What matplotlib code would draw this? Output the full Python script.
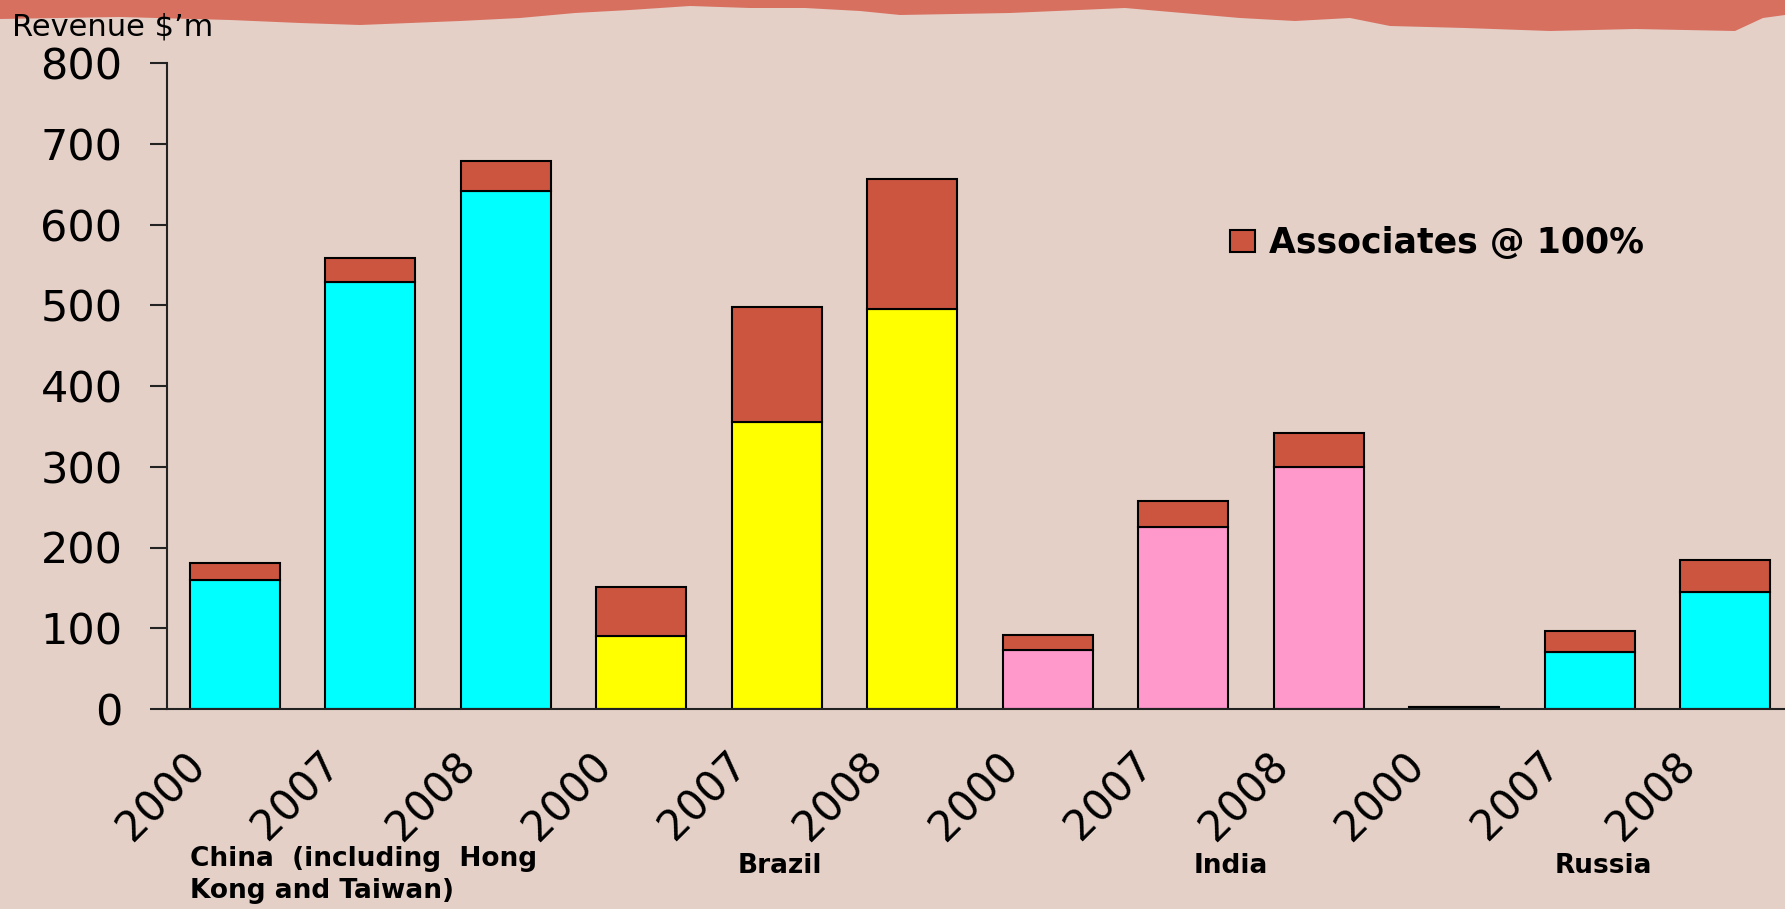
import matplotlib
matplotlib.use('Agg')
import matplotlib.pyplot as plt
import matplotlib.transforms as mtransforms
from matplotlib.patches import Polygon
import numpy as np

# ---- data ----
countries = ["China  (including  Hong\nKong and Taiwan)", "Brazil", "India", "Russia"]
years = ["2000", "2007", "2008"]
subsidiaries = [160, 529, 641, 90, 355, 495, 73, 225, 300, 2, 71, 145]
associates = [21, 30, 38, 61, 143, 161, 19, 33, 42, 0, 25, 40]
country_colors = ["#00FFFF", "#FFFF00", "#FF99CC", "#00FFFF"]
assoc_label = "Associates @ 100%"
y_label = "Revenue $\u2019m"
y_ticks = [0, 100, 200, 300, 400, 500, 600, 700, 800]

W, H = 1785, 909
BG = "#E4D0C7"
plt.rcParams['font.family'] = ['DejaVu Sans']

fig = plt.figure(figsize=(W / 100, H / 100), dpi=100, facecolor=BG)

# torn banner at top (decoration)
edge = [(0, 19), (120, 17), (230, 20), (300, 23), (360, 25), (460, 21), (520, 18),
        (575, 13), (630, 10), (690, 6), (750, 8), (805, 8), (860, 11), (900, 15),
        (1010, 13), (1125, 8), (1240, 18), (1295, 21), (1350, 18), (1390, 26),
        (1465, 28), (1550, 31), (1635, 29), (1735, 31), (1763, 18), (1785, 15)]
pts = [(x / W, 1 - y / H) for x, y in edge] + [(1, 1), (0, 1)]
fig.add_artist(Polygon(pts, closed=True, transform=fig.transFigure,
                       facecolor="#D87060", edgecolor='none', zorder=0))

ax = fig.add_axes([167 / W, 1 - 709 / H, (1793 - 167) / W, (709 - 63) / H])
ax.set_facecolor('none')

n = len(subsidiaries)
x = np.arange(n)
colors = [country_colors[i // len(years)] for i in range(n)]
bw = 0.664
ax.bar(x, subsidiaries, width=bw, color=colors, edgecolor='black', linewidth=1.5)
ax.bar(x, associates, bottom=subsidiaries, width=bw, color="#CC5540",
       edgecolor='black', linewidth=1.5, label=assoc_label)

ax.set_xlim(-0.5, n - 0.5)
ax.set_ylim(0, 800)
ax.set_yticks(y_ticks)
for s in ['top', 'right']:
    ax.spines[s].set_visible(False)
for s in ['left', 'bottom']:
    ax.spines[s].set_linewidth(1.5)
    ax.spines[s].set_color('#222222')
ax.tick_params(axis='y', length=12, width=1.5, pad=20, labelsize=31, color='#222222')
ax.tick_params(axis='x', length=0, pad=0, labelsize=30)

ax.set_xticks(x)
ax.set_xticklabels(years * len(countries), rotation=45, ha='right', va='top',
                   rotation_mode='anchor')
offset = mtransforms.ScaledTranslation(-0.51, -0.35, fig.dpi_scale_trans)
for lab in ax.get_xticklabels():
    lab.set_transform(lab.get_transform() + offset)

# country group labels
trans = mtransforms.blended_transform_factory(ax.transData, fig.transFigure)
group_x = [0 - bw / 2, 4.02, 7.35, 10.1]
group_ha = ['left', 'center', 'center', 'center']
group_top = [846, 853, 853, 853]
for name, gx, ha, gy in zip(countries, group_x, group_ha, group_top):
    ax.text(gx, 1 - gy / H, name, transform=trans, ha=ha, va='top',
            fontsize=19, fontweight='bold', linespacing=1.3)

fig.text(12 / W, 1 - 36 / H, y_label, fontsize=22, va='baseline', zorder=3)

ax.legend(loc='center left', bbox_to_anchor=(1230 / W, 1 - 243 / H),
          bbox_transform=fig.transFigure, frameon=False,
          prop={'weight': 'bold', 'size': 25}, handlelength=0.72,
          handleheight=0.6, handletextpad=0.4, borderpad=0, borderaxespad=0)

fig.savefig('out.png', dpi=100, facecolor=BG)
